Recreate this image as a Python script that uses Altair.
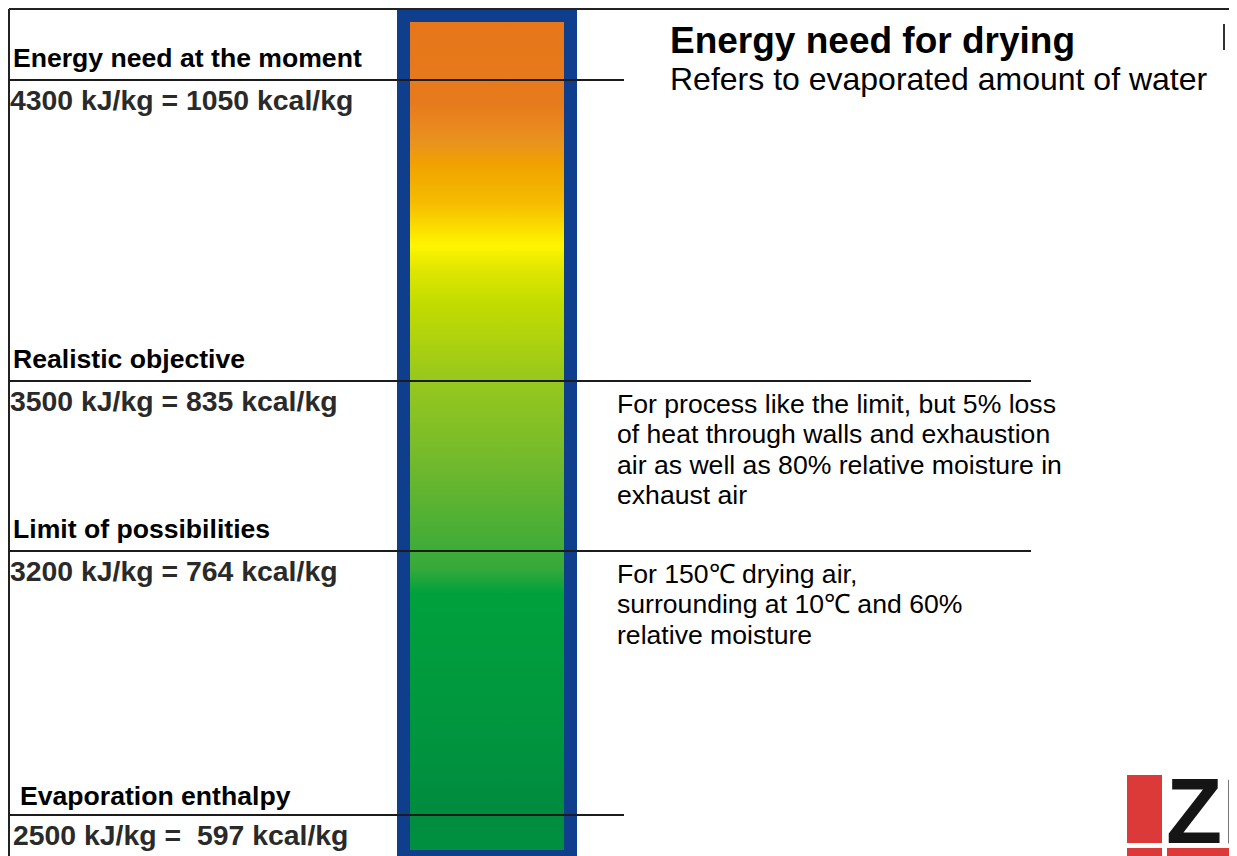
import altair as alt
import pandas as pd

# ---------------- data ----------------
LEVEL_NAMES = [
    "Energy need at the moment",
    "Realistic objective",
    "Limit of possibilities",
    "Evaporation enthalpy",
]
KJ_PER_KG = [4300, 3500, 3200, 2500]
KCAL_PER_KG = [1050, 835, 764, 597]
VALUE_LABELS = [
    "4300 kJ/kg = 1050 kcal/kg",
    "3500 kJ/kg = 835 kcal/kg",
    "3200 kJ/kg = 764 kcal/kg",
    "2500 kJ/kg = \u00a0597 kcal/kg",
]
NOTES = [
    "",
    "For process like the limit, but 5% loss\nof heat through walls and exhaustion\nair as well as 80% relative moisture in\nexhaust air",
    "For 150\u2103 drying air,\nsurrounding at 10\u2103 and 60%\nrelative moisture",
    "",
]
TITLE = "Energy need for drying"
SUBTITLE = "Refers to evaporated amount of water"
LOGO_TEXT = "ZF"

levels = pd.DataFrame({
    "name": LEVEL_NAMES,
    "kj": KJ_PER_KG,
    "kcal": KCAL_PER_KG,
    "value_label": VALUE_LABELS,
    "note": NOTES,
})
one = pd.DataFrame({"k": [0]})

# ---------------- styles ----------------
W, H = 1221, 848
FONT = "Liberation Sans"
LINE_COLOR = "#1c1c1c"
BLUE = "#0f3f8c"
RED = "#dc3a38"

grad_stops = [
    (0.00, "#e6761a"), (0.10, "#e77b1c"), (0.145, "#ea921f"),
    (0.17, "#f0a100"), (0.22, "#f6bd00"), (0.27, "#fff500"),
    (0.30, "#dfe600"), (0.34, "#c2dc00"), (0.43, "#98c81c"),
    (0.52, "#77bb2b"), (0.61, "#4caf35"), (0.66, "#36a93a"),
    (0.69, "#00a13d"), (0.85, "#00963e"), (0.95, "#008c3e"),
    (1.00, "#008f40"),
]
gradient = alt.Gradient(
    gradient="linear", x1=0, x2=0, y1=0, y2=1,
    stops=[alt.GradientStop(offset=o, color=c) for o, c in grad_stops],
)

y_scale = alt.Scale(domain=[2500, 3200, 3500, 4300],
                    range=[807, 543, 373, 72], zero=False, nice=False)
Y = alt.Y("kj:Q", scale=y_scale, axis=None)

base = alt.Chart(levels)

# frame (top + left)
frame_top = alt.Chart(one).mark_rule(color="#222", strokeWidth=2).encode(
    x=alt.value(1), x2=alt.value(W), y=alt.value(1))
frame_left = alt.Chart(one).mark_rule(color="#222", strokeWidth=2).encode(
    x=alt.value(1), y=alt.value(1), y2=alt.value(H))

# energy bar
bar_outer = alt.Chart(one).mark_rect(fill=BLUE).encode(
    x=alt.value(389), x2=alt.value(569), y=alt.value(2), y2=alt.value(H))
bar_inner = alt.Chart(one).mark_rect(fill=gradient).encode(
    x=alt.value(402), x2=alt.value(556), y=alt.value(14), y2=alt.value(842))

# level lines
short_lines = base.transform_filter("datum.kj == 4300 || datum.kj == 2500").mark_rule(
    color=LINE_COLOR, strokeWidth=2).encode(x=alt.value(1), x2=alt.value(616), y=Y)
long_lines = base.transform_filter("datum.kj == 3500 || datum.kj == 3200").mark_rule(
    color=LINE_COLOR, strokeWidth=2).encode(x=alt.value(1), x2=alt.value(1023), y=Y)

# level names and values
names_a = base.transform_filter("datum.kj != 2500").mark_text(
    align="left", baseline="alphabetic", font=FONT, fontSize=26.6,
    fontWeight="bold", color="#000", dy=-13).encode(
    x=alt.value(5), y=Y, text="name:N")
names_b = base.transform_filter("datum.kj == 2500").mark_text(
    align="left", baseline="alphabetic", font=FONT, fontSize=26.6,
    fontWeight="bold", color="#000", dy=-10).encode(
    x=alt.value(12), y=Y, text="name:N")
values_a = base.transform_filter("datum.kj != 2500").mark_text(
    align="left", baseline="alphabetic", font=FONT, fontSize=28.4,
    fontWeight="bold", color="#2a2a2a", dy=29.5).encode(
    x=alt.value(2), y=Y, text="value_label:N")
values_b = base.transform_filter("datum.kj == 2500").mark_text(
    align="left", baseline="alphabetic", font=FONT, fontSize=28.4,
    fontWeight="bold", color="#2a2a2a", dy=30).encode(
    x=alt.value(5), y=Y, text="value_label:N")

# notes
notes = base.transform_filter("datum.note != ''").mark_text(
    align="left", baseline="alphabetic", font=FONT, fontSize=26.6,
    color="#000", dy=31.5, lineBreak="\n", lineHeight=30.5).encode(
    x=alt.value(609), y=Y, text="note:N")

# title
title = alt.Chart(one).mark_text(
    align="left", baseline="alphabetic", font=FONT, fontSize=37,
    fontWeight="bold", color="#000").encode(
    x=alt.value(662), y=alt.value(45), text=alt.value(TITLE))
subtitle = alt.Chart(one).mark_text(
    align="left", baseline="alphabetic", font=FONT, fontSize=32,
    color="#000").encode(
    x=alt.value(662), y=alt.value(82), text=alt.value(SUBTITLE))

tick_mark = alt.Chart(one).mark_rule(color="#333", strokeWidth=2).encode(
    x=alt.value(1216), y=alt.value(16), y2=alt.value(42))

# logo (shifted slightly left so a similar share of it stays visible)
logo_red = alt.Chart(one).mark_rect(fill=RED).encode(
    x=alt.value(1119), x2=alt.value(1154), y=alt.value(767), y2=alt.value(835))
logo_bar1 = alt.Chart(one).mark_rect(fill=RED).encode(
    x=alt.value(1119), x2=alt.value(1154), y=alt.value(840), y2=alt.value(848))
logo_bar2 = alt.Chart(one).mark_rect(fill=RED).encode(
    x=alt.value(1159), x2=alt.value(W), y=alt.value(840), y2=alt.value(848))
logo_text = alt.Chart(one).mark_text(
    align="left", baseline="alphabetic", font=FONT,
    fontSize=92, fontWeight="bold", color="#151515").encode(
    x=alt.value(1158), y=alt.value(835), text=alt.value(LOGO_TEXT))

chart = alt.layer(
    bar_outer, bar_inner, frame_top, frame_left,
    short_lines, long_lines,
    names_a, names_b, values_a, values_b, notes,
    title, subtitle, tick_mark,
    logo_red, logo_bar1, logo_bar2, logo_text,
).properties(
    width=W, height=H, padding=0, autosize="none", background="white",
).configure_view(stroke="transparent")

chart.save("out.html", embed_options={"renderer": "svg", "actions": False})
